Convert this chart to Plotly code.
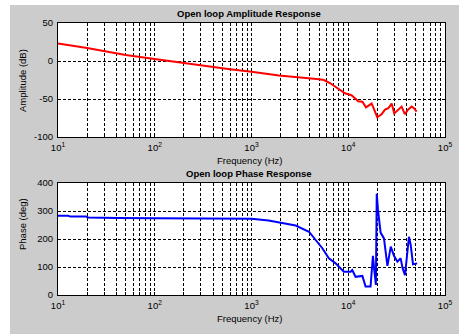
import plotly.graph_objects as go

# ---- data ----
amp_freq = [10, 20, 50, 100, 200, 600, 1000, 1923, 3000, 5000, 5600, 6470, 9250, 10800,
            12700, 14000, 15250, 17450, 18000, 19950, 22100, 24000, 26000, 28100, 29900,
            32900, 35600, 38500, 41500, 45200, 47800, 50900]
amp_db = [23, 17, 8, 3, -2.5, -11, -14, -19, -21, -24, -25, -29, -42.5, -45,
          -53, -53.5, -61, -56, -60, -74, -70, -64, -62, -56, -69,
          -64.5, -60, -70, -64, -60, -62, -66.7]

ph_freq = [10, 12.7, 13.5, 19.5, 20.5, 37, 41, 100, 300, 600, 1000, 1500, 1923, 2860, 3930,
           4600, 5400, 6300, 7400, 9000, 10600, 11000, 11900, 14000, 15100, 17000, 18000,
           18500, 19300, 19700, 20300, 21600, 23400, 25400, 27500, 29700, 32200, 34800,
           36500, 38600, 42400, 44200, 46700, 51600]
ph_deg = [283, 283, 280, 280, 277, 277, 275, 274, 274, 274, 272, 266, 260, 248, 226,
          196, 167, 131, 113, 83, 83, 89, 65, 68, 30, 30, 140,
          95, 36, 362, 304, 223, 202, 104, 173, 140, 119, 131,
          95, 71, 208, 179, 110, 113]

x_tickvals = [m * 10 ** e for e in range(1, 5) for m in range(1, 10)] + [100000]
x_ticktext = [("10<sup>%d</sup>" % (e)) if m == 1 else "" for e in range(1, 5) for m in range(1, 10)] + ["10<sup>5</sup>"]

amp_ticks = [-100, -50, 0, 50]
ph_ticks = [0, 100, 200, 300, 400]

# ---- layout geometry (pixels) ----
W, H = 459, 334
L, R, T, B = 58, 445, 23, 295
FONT = "Liberation Sans, Arial, sans-serif"


def px_x(p):
    return (p - L) / (R - L)


def px_y(p):
    return (B - p) / (B - T)


fig = go.Figure()
fig.add_trace(go.Scatter(x=amp_freq, y=amp_db, mode="lines",
                         line=dict(color="#ff0000", width=2), xaxis="x", yaxis="y"))
fig.add_trace(go.Scatter(x=ph_freq, y=ph_deg, mode="lines",
                         line=dict(color="#0000ff", width=2), xaxis="x2", yaxis="y2"))

grid = dict(showgrid=True, gridcolor="black", gridwidth=1, griddash="3px,2px",
            showline=True, linecolor="black", linewidth=1, mirror="allticks",
            ticks="inside", ticklen=3, tickcolor="black", zeroline=False,
            automargin=False,
            tickfont=dict(family=FONT, size=9.5, color="black"))

xcommon = dict(type="log", range=[1, 5], tickmode="array", tickvals=x_tickvals,
               ticktext=x_ticktext, ticklabelstandoff=2, **grid)

fig.update_layout(
    template="none",
    width=W, height=H,
    margin=dict(l=L, r=W - R, t=T, b=H - B, pad=0, autoexpand=False),
    paper_bgcolor="#cccccc", plot_bgcolor="white",
    showlegend=False,
    xaxis=dict(domain=[0, 1], anchor="y", **xcommon),
    yaxis=dict(domain=[px_y(137), 1], anchor="x", range=[-100, 50], tickmode="array",
               tickvals=amp_ticks, ticktext=[str(v) for v in amp_ticks],
               ticklabelstandoff=2, **grid),
    xaxis2=dict(domain=[0, 1], anchor="y2", **xcommon),
    yaxis2=dict(domain=[0, px_y(183)], anchor="x2", range=[0, 400], tickmode="array",
                tickvals=ph_ticks, ticktext=[str(v) for v in ph_ticks],
                ticklabelstandoff=2, **grid),
)

# white border strips outside the grey figure area
fig.add_shape(type="rect", xref="paper", yref="paper", x0=px_x(0), x1=px_x(10),
              y0=px_y(H), y1=px_y(0), fillcolor="white", line_width=0, layer="below")
fig.add_shape(type="rect", xref="paper", yref="paper", x0=px_x(0), x1=px_x(W),
              y0=px_y(5), y1=px_y(0), fillcolor="white", line_width=0, layer="below")

ann = [
    ("<b>Open loop Amplitude Response</b>", 249, 13.5, 0),
    ("Frequency (Hz)", 249, 160, 0),
    ("Amplitude (dB)", 22, 81, -90),
    ("<b>Open loop Phase Response</b>", 249, 173.5, 0),
    ("Frequency (Hz)", 249, 318, 0),
    ("Phase (deg)", 22, 224, -90),
]
for text, x, y, ang in ann:
    fig.add_annotation(text=text, x=px_x(x), y=px_y(y), xref="paper", yref="paper",
                       showarrow=False, textangle=ang, xanchor="center", yanchor="middle",
                       font=dict(family=FONT, size=9.5, color="black"))

fig.write_html("out.html", config={"displayModeBar": False},
               post_script="document.body.style.margin='0';document.body.style.overflow='hidden';")
